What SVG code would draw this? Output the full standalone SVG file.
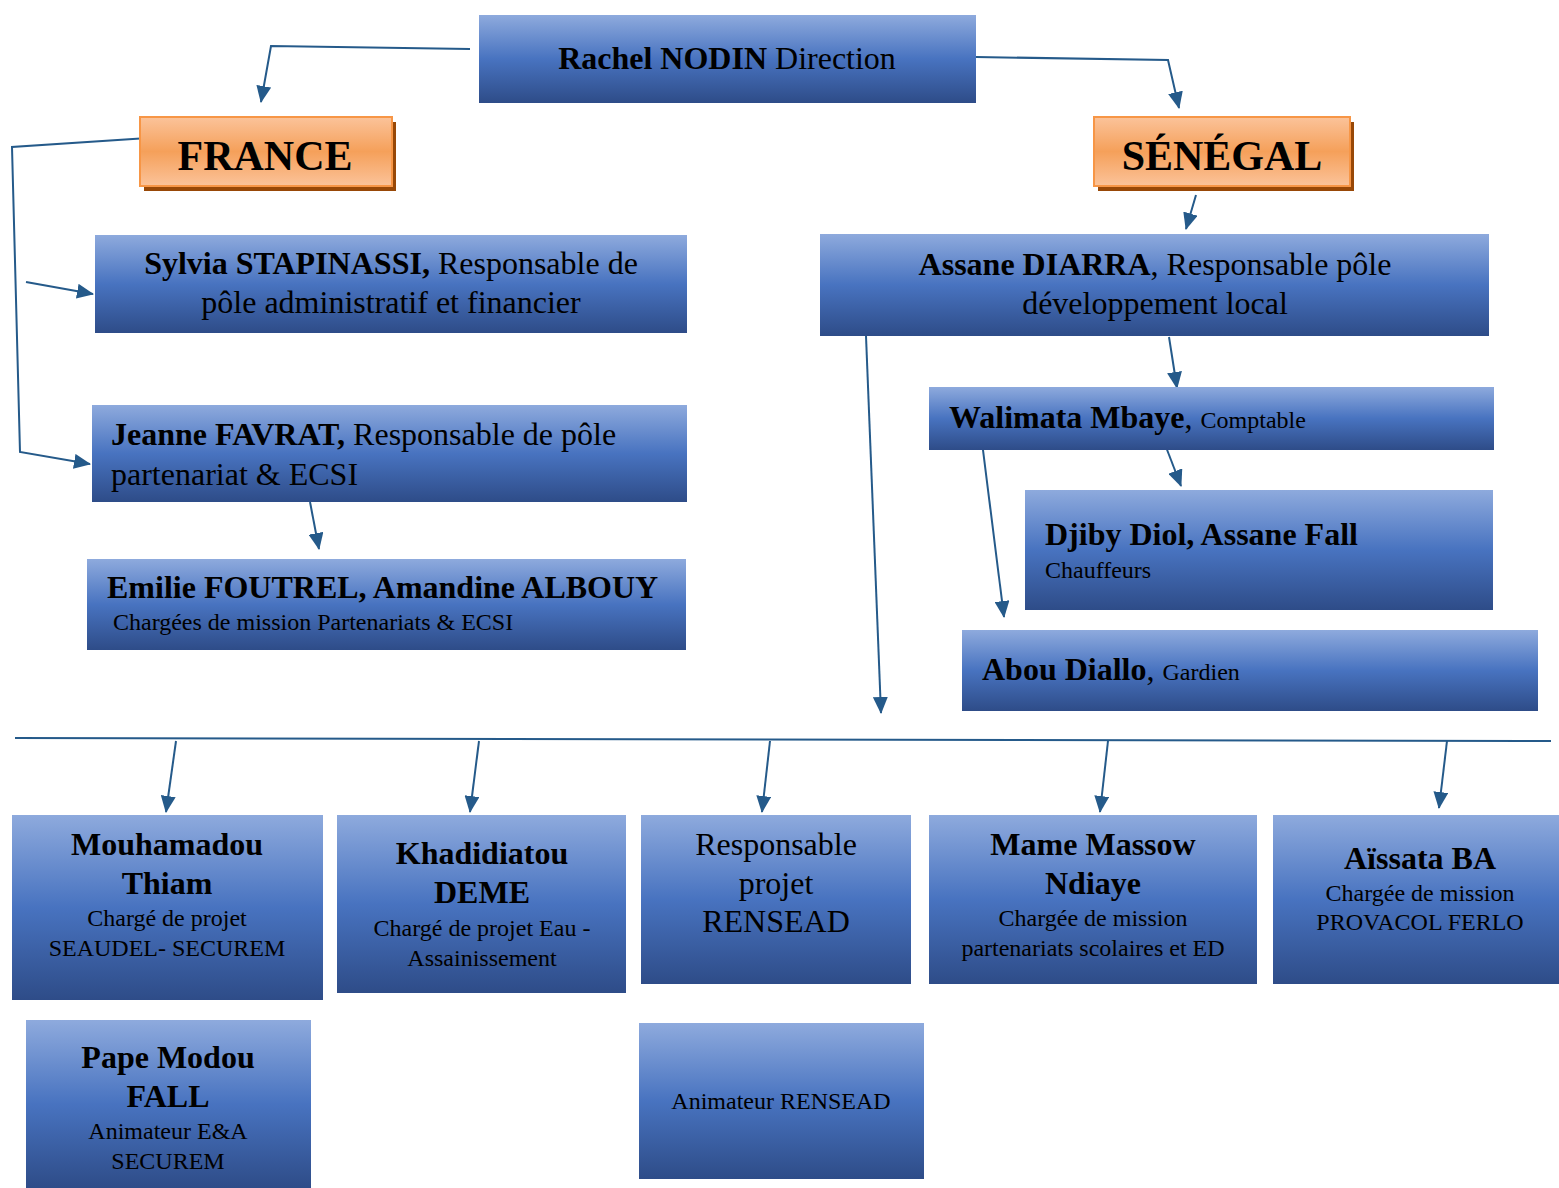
<svg xmlns="http://www.w3.org/2000/svg" width="1559" height="1188" viewBox="0 0 1559 1188">
<style>
text{font-family:"Liberation Serif","Times New Roman",serif;fill:#000}
.b{font-weight:bold}
.t{font-size:32px}
.s{font-size:24px}
.c{text-anchor:middle}
.box{fill:url(#blue)}
.or{fill:url(#orange);stroke:#F79646;stroke-width:2}
.sh{fill:#984807}
.con{fill:none;stroke:#255A8A;stroke-width:2}
</style>
<defs>
<linearGradient id="blue" x1="0" y1="0" x2="0" y2="1">
<stop offset="0" stop-color="#8EAADD"/>
<stop offset="0.5" stop-color="#4873C0"/>
<stop offset="1" stop-color="#2E4C88"/>
</linearGradient>
<linearGradient id="orange" x1="0" y1="0" x2="0" y2="1">
<stop offset="0" stop-color="#FBC39A"/>
<stop offset="0.5" stop-color="#F5A05A"/>
<stop offset="1" stop-color="#FBC39A"/>
</linearGradient>
<marker id="ah" markerUnits="userSpaceOnUse" markerWidth="17" markerHeight="15" refX="16" refY="7.5" orient="auto">
<path d="M0,0 L17,7.5 L0,15 Z" fill="#255A8A"/>
</marker>
</defs>

<g id="connectors">
<polyline class="con" points="470,49 271,46 261,102" marker-end="url(#ah)"/>
<polyline class="con" points="976,57 1168,60 1179,108" marker-end="url(#ah)"/>
<polyline class="con" points="148,138 12,147 20,452 90,464" marker-end="url(#ah)"/>
<line class="con" x1="26" y1="282" x2="93" y2="294" marker-end="url(#ah)"/>
<line class="con" x1="310" y1="502" x2="319" y2="549" marker-end="url(#ah)"/>
<line class="con" x1="1196" y1="195" x2="1186" y2="229" marker-end="url(#ah)"/>
<line class="con" x1="1169" y1="337" x2="1177" y2="388" marker-end="url(#ah)"/>
<line class="con" x1="1166" y1="447" x2="1181" y2="486" marker-end="url(#ah)"/>
<line class="con" x1="983" y1="450" x2="1004" y2="617" marker-end="url(#ah)"/>
<line class="con" x1="866" y1="336" x2="881" y2="713" marker-end="url(#ah)"/>
<line class="con" x1="15" y1="738" x2="1551" y2="741"/>
<line class="con" x1="176" y1="741" x2="166" y2="812" marker-end="url(#ah)"/>
<line class="con" x1="479" y1="741" x2="470" y2="812" marker-end="url(#ah)"/>
<line class="con" x1="770" y1="741" x2="762" y2="812" marker-end="url(#ah)"/>
<line class="con" x1="1108" y1="741" x2="1100" y2="812" marker-end="url(#ah)"/>
<line class="con" x1="1447" y1="741" x2="1439" y2="808" marker-end="url(#ah)"/>
</g>

<g id="rachel">
<rect class="box" x="479" y="15" width="497" height="88"/>
<text class="t c" x="727" y="69"><tspan class="b">Rachel NODIN</tspan> Direction</text>
</g>

<g id="france">
<rect class="sh" x="144" y="122" width="252" height="69"/>
<rect class="or" x="140" y="117" width="252" height="69"/>
<text class="b c" x="265" y="170" font-size="42">FRANCE</text>
</g>

<g id="senegal">
<rect class="sh" x="1098" y="122" width="256" height="69"/>
<rect class="or" x="1094" y="117" width="256" height="69"/>
<text class="b c" x="1222" y="170" font-size="42">SÉNÉGAL</text>
</g>

<g id="sylvia">
<rect class="box" x="95" y="235" width="592" height="98"/>
<text class="t c" x="391" y="274"><tspan class="b">Sylvia STAPINASSI,</tspan> Responsable de</text>
<text class="t c" x="391" y="313">pôle administratif et financier</text>
</g>

<g id="jeanne">
<rect class="box" x="92" y="405" width="595" height="97"/>
<text class="t" x="111" y="445"><tspan class="b">Jeanne FAVRAT,</tspan> Responsable de pôle</text>
<text class="t" x="111" y="485">partenariat &amp; ECSI</text>
</g>

<g id="emilie">
<rect class="box" x="87" y="559" width="599" height="91"/>
<text class="t b" x="107" y="598">Emilie FOUTREL, Amandine ALBOUY</text>
<text class="s" x="113" y="630">Chargées de mission Partenariats &amp; ECSI</text>
</g>

<g id="assane">
<rect class="box" x="820" y="234" width="669" height="102"/>
<text class="t c" x="1155" y="275"><tspan class="b">Assane DIARRA</tspan>, Responsable pôle</text>
<text class="t c" x="1155" y="314">développement local</text>
</g>

<g id="walimata">
<rect class="box" x="929" y="387" width="565" height="63"/>
<text class="t" x="949" y="428"><tspan class="b">Walimata Mbaye</tspan>, <tspan class="s">Comptable</tspan></text>
</g>

<g id="djiby">
<rect class="box" x="1025" y="490" width="468" height="120"/>
<text class="t b" x="1045" y="545">Djiby Diol, Assane Fall</text>
<text class="s" x="1045" y="578">Chauffeurs</text>
</g>

<g id="abou">
<rect class="box" x="962" y="630" width="576" height="81"/>
<text class="t" x="982" y="680"><tspan class="b">Abou Diallo</tspan>, <tspan class="s">Gardien</tspan></text>
</g>

<g id="mouhamadou">
<rect class="box" x="12" y="815" width="311" height="185"/>
<text class="t b c" x="167" y="855">Mouhamadou</text>
<text class="t b c" x="167" y="894">Thiam</text>
<text class="s c" x="167" y="926">Chargé de projet</text>
<text class="s c" x="167" y="956">SEAUDEL- SECUREM</text>
</g>

<g id="khadidiatou">
<rect class="box" x="337" y="815" width="289" height="178"/>
<text class="t b c" x="482" y="864">Khadidiatou</text>
<text class="t b c" x="482" y="903">DEME</text>
<text class="s c" x="482" y="936">Chargé de projet Eau -</text>
<text class="s c" x="482" y="966">Assainissement</text>
</g>

<g id="responsable">
<rect class="box" x="641" y="815" width="270" height="169"/>
<text class="t c" x="776" y="855">Responsable</text>
<text class="t c" x="776" y="894">projet</text>
<text class="t c" x="776" y="932">RENSEAD</text>
</g>

<g id="mame">
<rect class="box" x="929" y="815" width="328" height="169"/>
<text class="t b c" x="1093" y="855">Mame Massow</text>
<text class="t b c" x="1093" y="894">Ndiaye</text>
<text class="s c" x="1093" y="926">Chargée de mission</text>
<text class="s c" x="1093" y="956">partenariats scolaires et ED</text>
</g>

<g id="aissata">
<rect class="box" x="1273" y="815" width="286" height="169"/>
<text class="t b c" x="1420" y="869">Aïssata BA</text>
<text class="s c" x="1420" y="901">Chargée de mission</text>
<text class="s c" x="1420" y="930">PROVACOL FERLO</text>
</g>

<g id="pape">
<rect class="box" x="26" y="1020" width="285" height="168"/>
<text class="t b c" x="168" y="1068">Pape Modou</text>
<text class="t b c" x="168" y="1107">FALL</text>
<text class="s c" x="168" y="1139">Animateur E&amp;A</text>
<text class="s c" x="168" y="1169">SECUREM</text>
</g>

<g id="animateur">
<rect class="box" x="639" y="1023" width="285" height="156"/>
<text class="s c" x="781" y="1109">Animateur RENSEAD</text>
</g>
</svg>
